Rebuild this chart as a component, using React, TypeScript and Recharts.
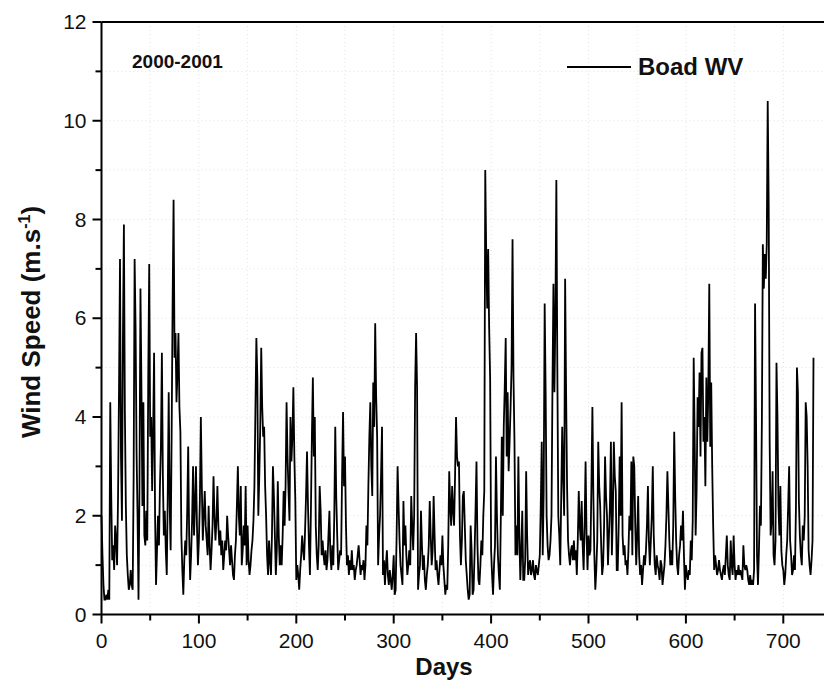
import { LineChart, Line, XAxis, YAxis, CartesianGrid, ReferenceLine, Legend } from "recharts";

// daily mean wind speed, day 0 = first day of 2000
const speed2000 = [
  2.0, 1.2, 0.6, 0.3, 0.3, 0.4, 0.3, 0.5, 0.3, 4.3,
  2.4, 1.1, 1.4, 0.9, 1.8, 1.5, 1.0, 2.4, 4.6, 7.2,
  3.2, 1.9, 5.6, 7.9, 4.1, 2.2, 1.2, 0.8, 0.5, 0.6,
  0.9, 0.6, 0.5, 2.8, 7.2, 5.8, 3.3, 2.0, 0.3, 2.6,
  6.6, 4.6, 2.2, 4.3, 1.6, 1.4, 2.1, 1.5, 4.8, 7.1,
  3.6, 4.0, 2.5, 3.7, 5.3, 2.0, 0.6, 1.3, 2.0, 1.4,
  2.6, 3.4, 5.3, 2.8, 1.6, 2.1, 1.3, 0.8, 2.4, 4.5,
  2.2, 1.3, 3.6, 6.3, 8.4, 5.2, 5.7, 4.3, 4.9, 5.7,
  4.2, 3.7, 1.6, 0.9, 0.4, 1.1, 1.5, 1.2, 2.1, 3.4,
  1.6, 0.7, 1.2, 1.9, 3.0, 1.6, 2.2, 3.0, 1.8, 1.0,
  1.5, 2.3, 4.0, 2.6, 1.5, 2.0, 2.5, 1.8, 1.5, 1.2,
  2.2, 1.4, 0.9, 1.3, 1.8, 2.8, 2.0, 1.5, 1.9, 2.6,
  1.8, 1.4, 1.7, 1.2, 1.5, 0.9, 1.2, 1.5, 1.3, 2.0,
  1.6, 1.3, 1.0, 1.4, 1.1, 0.8, 0.7, 1.2, 1.5, 2.2,
  3.0, 2.0, 1.6, 2.6, 1.0, 1.3, 1.8, 1.4, 2.6, 1.0,
  1.8, 1.1, 0.8, 1.0, 1.3, 1.5, 1.9, 2.6, 4.1, 5.6,
  4.8, 2.0, 2.8, 3.8, 5.4, 4.2, 3.6, 3.8, 2.6, 2.0,
  1.2, 0.8, 1.5, 1.1, 0.8, 1.6, 3.0, 2.4, 1.6, 0.8,
  1.3, 2.7, 1.6, 1.0, 1.4, 1.0, 1.6, 2.5, 1.8, 2.6,
  4.3, 3.2, 2.5, 1.9, 4.0, 3.1, 3.6, 4.6, 3.2, 2.3,
  0.7, 1.0, 0.8, 0.5, 0.9, 1.2, 1.6, 1.3, 1.1, 1.7,
  2.4, 3.3, 2.2, 1.4, 0.8, 2.1, 3.6, 4.8, 3.2, 4.0,
  1.8, 1.2, 0.9, 1.4, 2.6, 2.1, 1.2, 1.5, 1.2, 1.0,
  1.3, 0.9, 1.1, 1.6, 2.1, 1.2, 0.9, 1.4, 1.0, 2.0,
  3.8, 2.4, 1.6, 0.9, 1.1, 1.3, 1.2, 2.8, 4.1, 2.6,
  3.2, 1.8, 1.0, 1.2, 0.8, 1.1, 0.9, 1.3, 0.9, 1.0,
  0.7, 0.9, 1.0, 1.2, 1.4, 1.1, 0.8, 1.0, 0.9, 1.1,
  0.7, 1.0, 1.8, 1.4, 2.6, 3.6, 4.3, 3.0, 2.4, 4.7,
  3.8, 5.9, 4.4, 3.6, 1.0, 1.6, 2.0, 2.8, 3.8, 0.8,
  1.1, 0.6, 1.0, 1.3, 0.8, 0.6, 0.9, 0.7, 0.5, 0.8,
  1.2, 0.4, 0.5, 1.6, 3.0, 2.2, 1.5, 1.0, 0.8, 0.6,
  2.3, 1.4, 1.8, 1.2, 0.8, 1.0, 1.3, 1.0, 2.4, 1.8,
  1.3, 2.0, 4.6, 5.7, 4.6, 0.5, 0.8, 1.0, 2.1, 1.4,
  0.9, 1.2, 0.7, 0.5, 0.8, 1.0, 1.4, 2.3, 1.6, 1.0,
  1.3, 2.4, 1.6, 0.9, 1.1, 0.8, 0.6, 0.9, 1.2, 1.0,
  1.6, 1.0, 0.7, 0.4, 0.6, 0.5, 1.4, 2.9, 2.2, 1.8,
  2.6, 2.1, 1.8, 2.8, 4.0, 3.2,
];

const speed2001 = [
  3.0, 3.1, 1.6, 1.0,
  1.5, 2.4, 2.5, 1.8, 1.1, 0.8, 0.5, 0.3, 0.4, 1.8,
  1.3, 0.4, 0.5, 1.2, 2.1, 3.1, 1.4, 0.7, 0.6, 1.0,
  1.5, 1.2, 2.0, 2.5, 9.0, 7.3, 6.2, 7.4, 5.8, 4.8,
  1.3, 0.8, 0.4, 1.0, 1.4, 3.2, 2.0, 1.2, 0.8, 0.5,
  2.0, 3.6, 2.0, 3.8, 4.6, 5.6, 3.2, 4.5, 2.9, 3.5,
  4.2, 5.0, 7.6, 4.8, 3.5, 1.2, 1.8, 1.2, 3.2, 1.6,
  0.7, 1.3, 2.1, 0.7, 0.7, 1.1, 2.9, 1.6, 0.8, 1.0,
  1.1, 0.8, 0.9, 1.1, 0.8, 0.7, 1.0, 0.9, 0.8, 1.0,
  1.2, 2.2, 3.5, 1.2, 2.5, 6.3, 4.5, 2.0, 1.4, 1.1,
  1.2, 1.5, 2.0, 4.6, 6.7, 4.5, 6.0, 8.8, 5.0, 2.0,
  1.6, 1.0, 2.4, 3.8, 2.8, 2.0, 6.8, 4.5, 2.6, 1.5,
  1.2, 1.0, 1.3, 1.4, 1.1, 1.5, 1.1, 1.3, 0.8, 1.5,
  2.5, 1.8, 1.5, 2.3, 1.4, 0.9, 1.8, 3.1, 1.6, 0.9,
  1.6, 1.2, 1.3, 2.6, 4.2, 2.4, 1.2, 0.5, 0.9, 1.5,
  3.5, 2.6, 2.2, 1.4, 0.8, 1.0, 1.8, 3.2, 2.4, 2.0,
  1.0, 1.6, 2.2, 3.5, 1.2, 2.0, 3.5, 2.8, 2.5, 0.9,
  0.9, 1.8, 3.2, 2.0, 4.3, 1.6, 1.2, 1.4, 1.0, 1.1,
  0.8, 1.3, 2.0, 1.7, 3.1, 1.2, 3.2, 3.0, 1.8, 1.0,
  1.6, 2.4, 1.2, 0.8, 1.0, 0.6, 0.9, 1.2, 1.0, 1.3,
  1.8, 2.6, 1.5, 1.0, 1.5, 2.0, 3.0, 1.6, 1.0, 0.8,
  1.2, 1.0, 0.9, 0.7, 1.1, 1.0, 0.6, 0.8, 1.0, 1.4,
  2.0, 2.9, 2.2, 1.5, 1.0, 1.3, 1.0, 1.8, 3.7, 2.4,
  1.5, 1.0, 0.8, 1.2, 1.4, 1.8, 1.5, 2.1, 1.2, 0.5,
  1.0, 0.8, 0.7, 0.9, 0.8, 1.5, 1.1, 1.9, 5.2, 3.6,
  1.6, 2.5, 4.4, 3.8, 4.9, 3.2, 5.3, 5.4, 3.5, 4.0,
  2.6, 4.8, 3.5, 4.5, 6.7, 3.4, 4.7, 3.0, 1.8, 0.9,
  1.2, 1.0, 0.8, 0.9, 1.1, 0.9, 0.8, 0.7, 0.9, 1.0,
  0.8, 1.2, 1.6, 1.0, 0.8, 0.7, 1.5, 1.0, 0.8, 1.6,
  1.0, 0.7, 0.9, 0.8, 1.0, 0.8, 0.9, 0.8, 0.7, 1.4,
  1.0, 0.9, 1.0, 0.9, 0.7, 0.6, 0.8, 0.6, 0.7, 0.6,
  0.9, 6.3, 4.0, 1.2, 0.6, 1.3, 2.2, 1.8, 3.9, 7.5,
  6.6, 7.3, 6.8, 7.5, 10.4, 8.3, 3.5, 1.6, 1.9, 2.9,
  1.2, 1.0, 1.5, 5.1, 4.0, 2.2, 1.6, 2.6, 1.3, 1.0,
  0.9, 0.6, 0.8, 1.2, 1.5, 2.2, 3.0, 1.5, 1.2, 0.8,
  0.9, 1.2, 0.9, 2.2, 5.0, 4.5, 2.3, 1.6, 1.2, 1.0,
  1.8, 1.5, 2.0, 4.3, 4.0, 3.0, 1.3, 1.0, 0.8, 1.1,
  1.5, 5.2,
];

const dayTicks = [0, 50, 100, 150, 200, 250, 300, 350, 400, 450, 500, 550, 600, 650, 700, 750];
const speedTicks = [0, 1, 2, 3, 4, 5, 6, 7, 8, 9, 10, 11, 12];

const FONT = "'Liberation Sans', Arial, Helvetica, sans-serif";

const data = [...speed2000, ...speed2001].map((v, i) => ({ day: i, speed: v }));

function DayTick({ x, y, payload }: any) {
  const v = payload.value;
  const major = v % 100 === 0;
  return (
    <g>
      <line x1={x} y1={y} x2={x} y2={y + (major ? 9 : 6)} stroke="#000" strokeWidth={2} />
      {major && (
        <text x={x} y={y + 33} textAnchor="middle" fontSize={21} fontFamily={FONT} fill="#111">
          {v}
        </text>
      )}
    </g>
  );
}

function SpeedTick({ x, y, payload }: any) {
  const v = payload.value;
  const major = v % 2 === 0;
  return (
    <g>
      <line x1={x - (major ? 9 : 6)} y1={y} x2={x} y2={y} stroke="#000" strokeWidth={2} />
      {major && (
        <text x={x - 15} y={y + 7} textAnchor="end" fontSize={21} fontFamily={FONT} fill="#111">
          {v}
        </text>
      )}
    </g>
  );
}

function LegendBox() {
  return (
    <div style={{ display: "flex", alignItems: "center", fontFamily: FONT }}>
      <svg width={66} height={4}>
        <line x1={0} y1={2} x2={64} y2={2} stroke="#000" strokeWidth={2} />
      </svg>
      <span style={{ fontSize: 24, fontWeight: "bold", marginLeft: 5, color: "#111" }}>Boad WV</span>
    </div>
  );
}

export default function App() {
  return (
    <div style={{ position: "absolute", left: 0, top: 0, width: 824, height: 686, overflow: "hidden", background: "#fff" }}>
      <LineChart width={840} height={686} data={data} margin={{ top: 22, right: 8, bottom: 40, left: 41 }}>
        <CartesianGrid stroke="#e2e2e2" strokeDasharray="1 3" />
        <XAxis
          dataKey="day"
          type="number"
          domain={[0, 750]}
          ticks={dayTicks}
          interval={0}
          height={31.5}
          tickSize={0}
          tickMargin={0}
          tickLine={false}
          axisLine={{ stroke: "#000", strokeWidth: 2 }}
          tick={<DayTick />}
          label={{
            content: () => (
              <text x={444} y={675} textAnchor="middle" fontSize={24} fontWeight="bold" fontFamily={FONT} fill="#111">
                Days
              </text>
            ),
          }}
        />
        <YAxis
          type="number"
          domain={[0, 12]}
          ticks={speedTicks}
          interval={0}
          width={60.5}
          tickSize={0}
          tickMargin={0}
          tickLine={false}
          axisLine={{ stroke: "#000", strokeWidth: 2 }}
          tick={<SpeedTick />}
          label={{
            content: () => (
              <text transform="translate(40,322) rotate(-90)" textAnchor="middle" fontSize={26} fontWeight="bold" fontFamily={FONT} fill="#111">
                Wind Speed (m.s<tspan dy={-10} fontSize={16}>-1</tspan>
                <tspan dy={10}>)</tspan>
              </text>
            ),
          }}
        />
        <ReferenceLine y={12} stroke="#000" strokeWidth={2} />
        <Legend
          layout="horizontal"
          verticalAlign="middle"
          align="center"
          content={<LegendBox />}
          wrapperStyle={{ position: "absolute", left: 567, top: 53, width: "auto" }}
        />
        <Line
          type="linear"
          dataKey="speed"
          name="Boad WV"
          stroke="#000"
          strokeWidth={1.8}
          dot={false}
          isAnimationActive={false}
        />
      </LineChart>
      <div style={{ position: "absolute", left: 132, top: 51, fontFamily: FONT, fontWeight: "bold", fontSize: 19, color: "#111" }}>
        2000-2001
      </div>
    </div>
  );
}
